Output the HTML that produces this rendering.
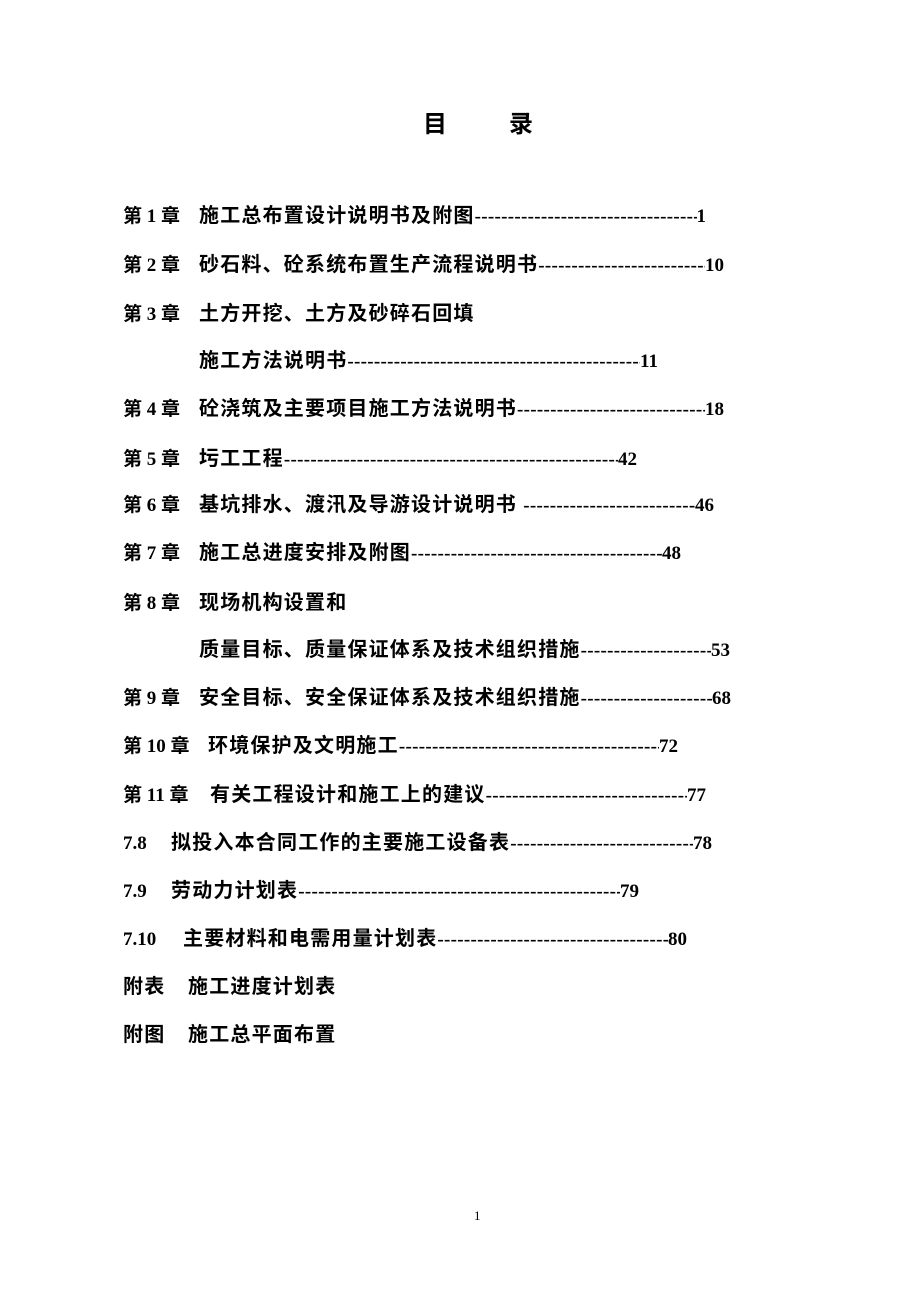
<!DOCTYPE html>
<html><head><meta charset="utf-8">
<style>
html,body{margin:0;padding:0;background:#fff;}
body{width:920px;height:1302px;position:relative;overflow:hidden;
font-family:"Liberation Serif","Noto Sans CJK SC",sans-serif;color:#000;}
.t{position:absolute;top:104px;font-size:24px;font-weight:bold;font-family:"Liberation Sans","Noto Sans CJK SC",sans-serif;}
.l{position:absolute;left:123px;display:flex;align-items:baseline;white-space:nowrap;font-size:19px;font-weight:bold;line-height:24px;}
.l .f{flex:1;overflow:hidden;letter-spacing:0.3px;}
.l .p{display:inline-block;}
.l .c{letter-spacing:1.2px;font-size:20px;}
.pg{position:absolute;top:1208px;left:474px;font-size:13px;}
</style></head><body>
<div class="t" style="left:423px">目</div>
<div class="t" style="left:509px">录</div>

<div class="l" style="top:204px;width:583px"><span class="p" style="width:76px">第 1 章</span><span class="c">施工总布置设计说明书及附图</span><span class="f">------------------------------------------------------------------------------------------------------------------</span><span>1</span></div>
<div class="l" style="top:253px;width:601px"><span class="p" style="width:76px">第 2 章</span><span class="c">砂石料、砼系统布置生产流程说明书</span><span class="f">------------------------------------------------------------------------------------------------------------------</span><span>10</span></div>
<div class="l" style="top:302px"><span class="p" style="width:76px">第 3 章</span><span class="c">土方开挖、土方及砂碎石回填</span></div>
<div class="l" style="top:349px;left:199px;width:459px"><span class="c">施工方法说明书</span><span class="f">------------------------------------------------------------------------------------------------------------------</span><span>11</span></div>
<div class="l" style="top:397px;width:601px"><span class="p" style="width:76px">第 4 章</span><span class="c">砼浇筑及主要项目施工方法说明书</span><span class="f">------------------------------------------------------------------------------------------------------------------</span><span>18</span></div>
<div class="l" style="top:447px;width:514px"><span class="p" style="width:76px">第 5 章</span><span class="c">圬工工程</span><span class="f">------------------------------------------------------------------------------------------------------------------</span><span>42</span></div>
<div class="l" style="top:493px;width:591px"><span class="p" style="width:76px">第 6 章</span><span class="c">基坑排水、渡汛及导游设计说明书&nbsp;</span><span class="f">------------------------------------------------------------------------------------------------------------------</span><span>46</span></div>
<div class="l" style="top:541px;width:558px"><span class="p" style="width:76px">第 7 章</span><span class="c">施工总进度安排及附图</span><span class="f">------------------------------------------------------------------------------------------------------------------</span><span>48</span></div>
<div class="l" style="top:591px"><span class="p" style="width:76px">第 8 章</span><span class="c">现场机构设置和</span></div>
<div class="l" style="top:638px;left:199px;width:531px"><span class="c">质量目标、质量保证体系及技术组织措施</span><span class="f">------------------------------------------------------------------------------------------------------------------</span><span>53</span></div>
<div class="l" style="top:686px;width:608px"><span class="p" style="width:76px">第 9 章</span><span class="c">安全目标、安全保证体系及技术组织措施</span><span class="f">------------------------------------------------------------------------------------------------------------------</span><span>68</span></div>
<div class="l" style="top:734px;width:555px"><span class="p" style="width:85px">第 10 章</span><span class="c">环境保护及文明施工</span><span class="f">------------------------------------------------------------------------------------------------------------------</span><span>72</span></div>
<div class="l" style="top:783px;width:583px"><span class="p" style="width:87px">第 11 章</span><span class="c">有关工程设计和施工上的建议</span><span class="f">------------------------------------------------------------------------------------------------------------------</span><span>77</span></div>
<div class="l" style="top:831px;width:589px"><span class="p" style="width:48px">7.8</span><span class="c">拟投入本合同工作的主要施工设备表</span><span class="f">------------------------------------------------------------------------------------------------------------------</span><span>78</span></div>
<div class="l" style="top:879px;width:516px"><span class="p" style="width:48px">7.9</span><span class="c">劳动力计划表</span><span class="f">------------------------------------------------------------------------------------------------------------------</span><span>79</span></div>
<div class="l" style="top:927px;width:564px"><span class="p" style="width:60px">7.10</span><span class="c">主要材料和电需用量计划表</span><span class="f">------------------------------------------------------------------------------------------------------------------</span><span>80</span></div>
<div class="l" style="top:975px"><span class="p c" style="width:65px">附表</span><span class="c">施工进度计划表</span></div>
<div class="l" style="top:1023px"><span class="p c" style="width:65px">附图</span><span class="c">施工总平面布置</span></div>

<div class="pg">1</div>
</body></html>
